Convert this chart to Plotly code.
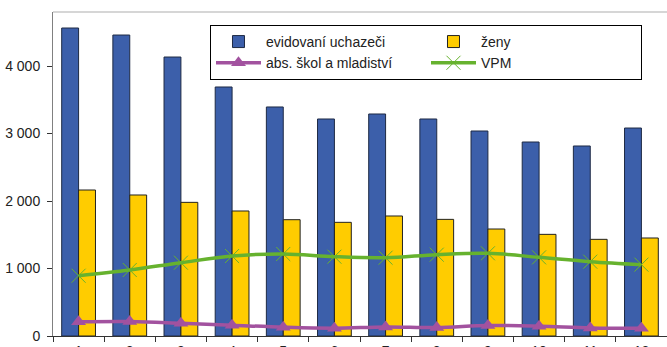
import plotly.graph_objects as go

months = ["1", "2", "3", "4", "5", "6", "7", "8", "9", "10", "11", "12"]
uchazeci = [4563, 4459, 4133, 3689, 3393, 3215, 3289, 3215, 3037, 2874, 2815, 3081]
zeny = [2163, 2089, 1980, 1852, 1723, 1684, 1778, 1728, 1585, 1506, 1432, 1452]
absolventi = [210, 215, 190, 160, 130, 115, 135, 125, 155, 145, 120, 115]
vpm = [893, 978, 1086, 1185, 1215, 1175, 1160, 1205, 1225, 1165, 1101, 1057]

names = ["evidovaní uchazeči", "ženy", "abs. škol a mladiství", "VPM"]

fig = go.Figure()
fig.add_trace(go.Bar(x=months, y=uchazeci, name=names[0],
                     marker=dict(color="#3C5FAA", line=dict(color="#1E2A44", width=1))))
fig.add_trace(go.Bar(x=months, y=zeny, name=names[1],
                     marker=dict(color="#FFCC00", line=dict(color="#222222", width=1))))
fig.add_trace(go.Scatter(x=months, y=absolventi, name=names[2], mode="lines+markers",
                         line=dict(color="#A2529F", width=3.5, shape="spline"),
                         marker=dict(symbol="triangle-up", size=13, color="#A2529F")))
fig.add_trace(go.Scatter(x=months, y=vpm, name=names[3], mode="lines+markers",
                         line=dict(color="#66B22E", width=3.5, shape="spline"),
                         marker=dict(symbol="x-thin", size=14,
                                     line=dict(color="#66B22E", width=1))))

fig.update_layout(
    width=667, height=347,
    margin=dict(l=53, r=0, t=12, b=11, autoexpand=False),
    paper_bgcolor="white", plot_bgcolor="white",
    barmode="group", bargap=0.34, bargroupgap=0,
    separators=", ",
    font=dict(family="Liberation Sans, Arial, sans-serif", size=14, color="#222222"),
    showlegend=True,
    legend=dict(orientation="h", x=0.2557, y=0.96, xanchor="left", yanchor="top",
                entrywidth=155, bgcolor="white", bordercolor="#000000", borderwidth=1,
                font=dict(size=14, color="#222222"), traceorder="normal",
                itemwidth=45, tracegroupgap=0),
    shapes=[dict(type="line", xref="paper", yref="paper", x0=0, x1=1, y0=1, y1=1,
                 line=dict(color="#C8C8C8", width=1.5))],
)
fig.update_xaxes(type="category", range=[-0.5, len(months) - 0.5],
                 showline=True, linecolor="#333333", linewidth=1,
                 ticks="outside", tickson="boundaries", ticklen=5, tickcolor="#333333",
                 showgrid=False, zeroline=False, tickfont=dict(size=14),
                 ticklabelstandoff=2, automargin=False)
fig.update_yaxes(range=[0, 4800], tickvals=[0, 1000, 2000, 3000, 4000],
                 separatethousands=True, tickformat=",d",
                 showline=True, linecolor="#808080", linewidth=1,
                 ticks="outside", ticklen=5, tickcolor="#333333",
                 showgrid=False, zeroline=False, tickfont=dict(size=14),
                 ticklabelstandoff=4, automargin=False)

fig.write_html("out.html", config={"displayModeBar": False},
               post_script="document.body.style.margin='0';document.body.style.overflow='hidden';")
